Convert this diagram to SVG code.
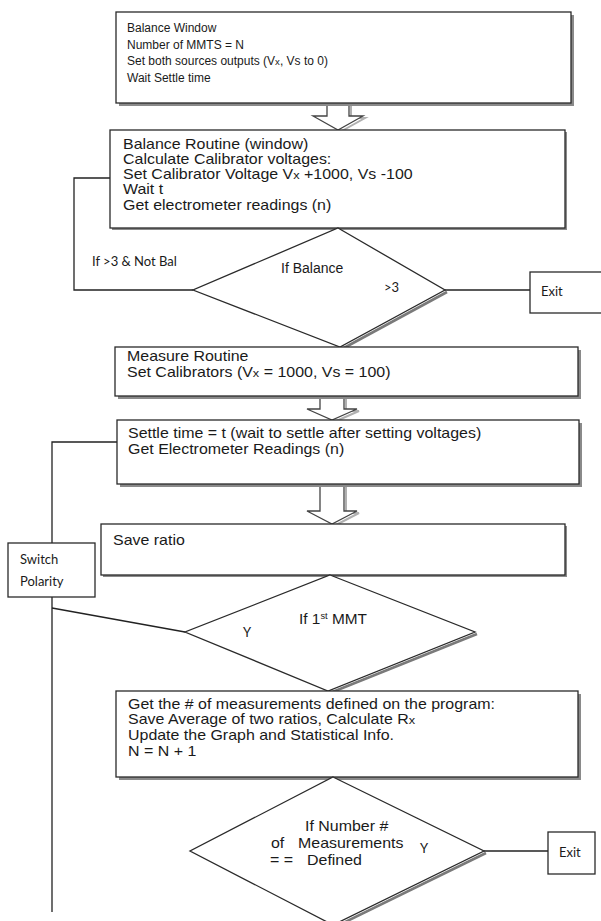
<svg xmlns="http://www.w3.org/2000/svg" width="601" height="921" viewBox="0 0 601 921">
  <style>
    .bg { fill: #ffffff; }
    .box { fill: #ffffff; stroke: #2a2a2a; stroke-width: 1.3; }
    .shadow { fill: #8a8a8a; }
    .dshadow { fill: none; stroke: #7a7a7a; stroke-width: 2.6; }
    .wire { fill: none; stroke: #222222; stroke-width: 1.3; }
    .barrow { fill: #ffffff; stroke: #444444; stroke-width: 1.3; }
    .barrow-sh { fill: none; stroke: #b0b0b0; stroke-width: 2; }
    .s12 { font-family: "Liberation Sans", Arial, sans-serif; font-size: 12px; fill: #1a1a1a; }
    .w14 { font-family: "Liberation Sans", Arial, sans-serif; font-size: 14px; fill: #1a1a1a; }
    .cal { font-family: Lato, "Open Sans", sans-serif; font-size: 13px; fill: #1a1a1a; }
    .small { font-size: 0.8em; }
  </style>
  <rect class="bg" x="0" y="0" width="601" height="921"/>

  <!-- connectors -->
  <g id="connectors">
    <!-- retry loop from the balance decision back to the balance routine -->
    <polyline class="wire" points="193,290 74,290 74,178 110,178"/>
    <!-- balance decision to exit -->
    <line class="wire" x1="445" y1="290" x2="530" y2="290"/>
    <!-- polarity loop back to the settle step -->
    <polyline class="wire" points="117,442 52,442 52,912"/>
    <line class="wire" x1="52" y1="608" x2="185" y2="632"/>
    <!-- measurement count decision to exit -->
    <line class="wire" x1="484" y1="851" x2="548" y2="851"/>
    <!-- hollow block arrows -->
    <path class="barrow-sh" d="M351,104 V118 H365 L340,132"/>
    <path class="barrow" d="M327,103 V116 H313 L338,130 L363,116 H349 V103"/>
    <path class="barrow-sh" d="M346,397 V411 H359 L334,422"/>
    <path class="barrow" d="M320,396 V409 H307 L332,420 L357,409 H344 V396"/>
    <path class="barrow-sh" d="M346,485 V513 H359 L334,526"/>
    <path class="barrow" d="M320,484 V511 H307 L332,524 L357,511 H344 V484"/>
  </g>

  <g id="balance-window">
    <rect class="shadow" x="119" y="15" width="455" height="91"/>
    <rect class="box" x="116" y="12" width="455" height="91"/>
    <text class="s12" x="127" y="32">Balance Window</text>
    <text class="s12" x="127" y="49">Number of MMTS = N</text>
    <text class="s12" x="127" y="65">Set both sources outputs (V<tspan class="small">x</tspan>, Vs to 0)</text>
    <text class="s12" x="127" y="82">Wait Settle time</text>
  </g>

  <g id="balance-routine">
    <rect class="shadow" x="112" y="132" width="455" height="98"/>
    <rect class="box" x="110" y="130" width="455" height="98"/>
    <text class="w14" transform="translate(123 149) scale(1.14 1)">Balance Routine (window)</text>
    <text class="w14" transform="translate(123 164) scale(1.14 1)">Calculate Calibrator voltages:</text>
    <text class="w14" transform="translate(123 179) scale(1.14 1)">Set Calibrator Voltage V<tspan class="small">x</tspan> +1000, Vs -100</text>
    <text class="w14" transform="translate(123 194) scale(1.14 1)">Wait t</text>
    <text class="w14" transform="translate(123 210) scale(1.14 1)">Get electrometer readings (n)</text>
  </g>

  <g id="if-balance">
    <polyline class="dshadow" points="447,292 342,349"/>
    <polygon class="box" points="338,228 445,290 340,347 193,290"/>
    <text class="w14" x="281" y="273">If Balance</text>
    <text class="cal" x="384" y="292">&gt;3</text>
    <text class="cal" x="92" y="266">If &gt;3 &amp; Not Bal</text>
  </g>

  <g id="exit-balance">
    <rect class="box" x="530" y="272" width="80" height="41"/>
    <text class="cal" x="541" y="296">Exit</text>
  </g>

  <g id="measure-routine">
    <rect class="shadow" x="118" y="350" width="463" height="49"/>
    <rect class="box" x="115" y="347" width="463" height="49"/>
    <text class="w14" transform="translate(127 361) scale(1.14 1)">Measure Routine</text>
    <text class="w14" transform="translate(127 377) scale(1.14 1)">Set Calibrators (V<tspan class="small">x</tspan> = 1000, Vs = 100)</text>
  </g>

  <g id="settle">
    <rect class="shadow" x="120" y="423" width="462" height="64"/>
    <rect class="box" x="117" y="420" width="462" height="64"/>
    <text class="w14" transform="translate(128 438) scale(1.14 1)">Settle time = t (wait to settle after setting voltages)</text>
    <text class="w14" transform="translate(128 454) scale(1.14 1)">Get Electrometer Readings (n)</text>
  </g>

  <g id="save-ratio">
    <rect class="shadow" x="103" y="526" width="464" height="51"/>
    <rect class="box" x="101" y="524" width="464" height="51"/>
    <text class="w14" transform="translate(113 545) scale(1.14 1)">Save ratio</text>
  </g>

  <g id="switch-polarity">
    <rect class="box" x="8" y="543" width="87" height="54"/>
    <text class="cal" x="20" y="564">Switch</text>
    <text class="cal" x="20" y="586">Polarity</text>
  </g>

  <g id="if-first-mmt">
    <polyline class="dshadow" points="477,634 330,693"/>
    <polygon class="box" points="330,575 475,632 328,691 185,632"/>
    <text class="w14" transform="translate(299 624) scale(1.1 1)">If 1<tspan font-size="8.5" dy="-5">st</tspan><tspan dy="5"> MMT</tspan></text>
    <text class="cal" x="243" y="637" font-size="11">Y</text>
  </g>

  <g id="average">
    <rect class="shadow" x="119" y="694" width="462" height="86"/>
    <rect class="box" x="116" y="691" width="462" height="86"/>
    <text class="w14" transform="translate(128 709) scale(1.14 1)">Get the # of measurements defined on the program:</text>
    <text class="w14" transform="translate(128 724) scale(1.14 1)">Save Average of two ratios, Calculate R<tspan class="small">x</tspan></text>
    <text class="w14" transform="translate(128 740) scale(1.14 1)">Update the Graph and Statistical Info.</text>
    <text class="w14" transform="translate(128 756) scale(1.14 1)">N = N + 1</text>
  </g>

  <g id="if-count">
    <polyline class="dshadow" points="486,853 335,927"/>
    <polygon class="box" points="333,777 484,851 333,925 190,851"/>
    <text class="w14" transform="translate(305 831) scale(1.14 1)">If Number #</text>
    <text class="w14" transform="translate(271 848) scale(1.14 1)">of</text>
    <text class="w14" transform="translate(298 848) scale(1.14 1)">Measurements</text>
    <text class="w14" transform="translate(270 865) scale(1.14 1)">= =</text>
    <text class="w14" transform="translate(307 865) scale(1.14 1)">Defined</text>
    <text class="cal" x="420" y="853" font-size="11">Y</text>
  </g>

  <g id="exit-count">
    <rect class="box" x="548" y="832" width="47" height="42"/>
    <text class="cal" x="559" y="857">Exit</text>
  </g>
</svg>
